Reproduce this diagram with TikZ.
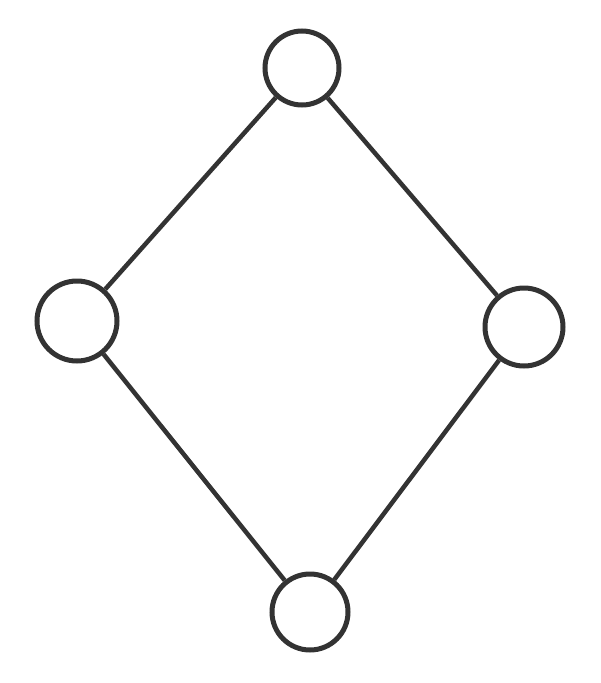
\documentclass[tikz,border=0pt]{standalone}
\begin{document}
\begin{tikzpicture}[x=1pt,y=-1pt,
  vert/.style={circle,draw=black!80,line width=5pt,minimum size=74pt,inner sep=0pt},
  edge/.style={draw=black!80,line width=4.5pt}]
\useasboundingbox (0,0) rectangle (601,683);
\node[vert] (t) at (302,68) {};
\node[vert,minimum size=80pt] (l) at (77,321) {};
\node[vert,minimum size=78pt] (r) at (524,327) {};
\node[vert,minimum size=76pt] (b) at (310,612) {};
\draw[edge] (t) -- (l);
\draw[edge] (t) -- (r);
\draw[edge] (l) -- (b);
\draw[edge] (r) -- (b);
\end{tikzpicture}
\end{document}
